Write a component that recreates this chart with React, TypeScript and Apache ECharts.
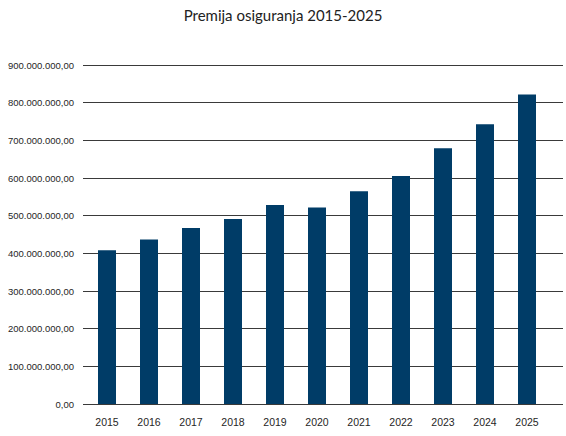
import React, { useEffect, useRef } from "react";
import * as echarts from "echarts";

const title = "Premija osiguranja 2015-2025";
const years = ["2015", "2016", "2017", "2018", "2019", "2020", "2021", "2022", "2023", "2024", "2025"];
const premiums = [408e6, 437e6, 467e6, 491e6, 528e6, 522e6, 565e6, 605e6, 679e6, 743e6, 822e6];
const yMin = 0;
const yMax = 900e6;
const yStep = 100e6;

function fmt(v: number): string {
  const s = Math.round(v).toString().replace(/\B(?=(\d{3})+(?!\d))/g, ".");
  return s + ",00";
}

export default function App() {
  const ref = useRef<HTMLDivElement>(null);
  useEffect(() => {
    if (!ref.current) return;
    const chart = echarts.init(ref.current, null, { renderer: "svg" });
    const labelFont = "'Liberation Sans', Arial, sans-serif";
    chart.setOption({
      animation: false,
      backgroundColor: "#ffffff",
      title: {
        text: title,
        left: "center",
        top: 2,
        textStyle: { fontFamily: "Lato, 'Noto Sans', sans-serif", fontWeight: "normal", fontSize: 15, color: "#222222" },
      },
      grid: [
        { left: 83, right: 3, top: 65, bottom: 32 },
        { left: 86, right: 18, top: 65, bottom: 32 },
      ],
      xAxis: [
        { type: "value", gridIndex: 0, show: false, min: 0, max: 1 },
        {
          type: "category",
          gridIndex: 1,
          data: years,
          boundaryGap: true,
          axisLine: { show: false },
          axisTick: { show: false },
          axisLabel: { color: "#262626", fontFamily: labelFont, fontSize: 10.5, margin: 12 },
        },
      ],
      yAxis: [
        {
          type: "value",
          gridIndex: 0,
          min: yMin,
          max: yMax,
          interval: yStep,
          axisLine: { show: false },
          axisTick: { show: false },
          axisLabel: { color: "#262626", fontFamily: labelFont, fontSize: 9.5, margin: 9, formatter: (v: number) => fmt(v) },
          splitLine: { show: true, lineStyle: { color: "#3a3a3a", width: 1 } },
        },
        {
          type: "value",
          gridIndex: 1,
          min: yMin,
          max: yMax,
          interval: yStep,
          show: false,
          splitLine: { show: false },
        },
      ],
      series: [
        {
          type: "bar",
          xAxisIndex: 1,
          yAxisIndex: 1,
          data: premiums,
          barWidth: 18,
          itemStyle: { color: "#003c67" },
        },
      ],
    });
    return () => chart.dispose();
  }, []);
  return <div ref={ref} style={{ position: "absolute", left: 0, top: 0, width: 566, height: 436 }} />;
}
